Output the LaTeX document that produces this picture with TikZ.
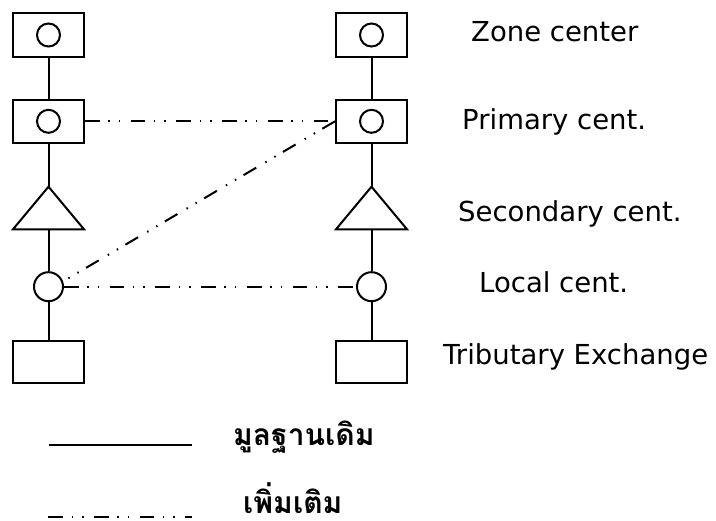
\documentclass[tikz,border=0pt]{standalone}
\usepackage{fontspec}
\setmainfont{DejaVu Sans}
\newfontfamily\thaifont[Script=Thai]{Loma}
\begin{document}
\begin{tikzpicture}[x=1pt,y=-1pt,
  lw/.style={line width=2pt},
  ctr/.style={draw,lw,rectangle,minimum width=71pt,minimum height=43.5pt,inner sep=0pt},
  inr/.style={draw,lw,circle,minimum size=23pt,inner sep=0pt},
  loc/.style={draw,lw,circle,minimum size=29pt,inner sep=0pt},
  lbl/.style={anchor=base west,inner sep=0pt,font=\fontsize{27.5}{30}\selectfont},
  thai/.style={anchor=base west,inner sep=0pt,font=\thaifont\bfseries\fontsize{30}{34}\selectfont},
  extra/.style={lw,dash pattern=on 14.7pt off 8.5pt on 1.5pt off 9pt on 1.5pt off 10.5pt}
]
\useasboundingbox (0,0) rectangle (716,521);

% left column
\node[ctr] (Lz) at (48.5,35) {};
\node[inr] (Lzc) at (48.5,35) {};
\node[ctr] (Lp) at (48.5,121.3) {};
\node[inr] (Lpc) at (48.5,121.3) {};
\coordinate (La) at (48.5,186.7);
\coordinate (Lb) at (48.5,229.3);
\draw[lw,line join=miter] (13,229.3) -- (La) -- (84,229.3) -- cycle;
\node[loc] (Ll) at (48.5,286.7) {};
\node[ctr,minimum height=42.6pt] (Lt) at (48.5,362) {};

% right column
\node[ctr] (Rz) at (371.5,35) {};
\node[inr] (Rzc) at (371.5,35) {};
\node[ctr] (Rp) at (371.5,121.3) {};
\node[inr] (Rpc) at (371.5,121.3) {};
\coordinate (Ra) at (371.5,186.7);
\coordinate (Rb) at (371.5,229.3);
\draw[lw,line join=miter] (336,229.3) -- (Ra) -- (407,229.3) -- cycle;
\node[loc] (Rl) at (371.5,286.7) {};
\node[ctr,minimum height=42.6pt] (Rt) at (371.5,362) {};

% solid connectors
\draw[lw] (Lz.south) -- (Lp.north);
\draw[lw] (Lp.south) -- (La);
\draw[lw] (Lb) -- (Ll.north);
\draw[lw] (Ll.south) -- (Lt.north);
\draw[lw] (Rz.south) -- (Rp.north);
\draw[lw] (Rp.south) -- (Ra);
\draw[lw] (Rb) -- (Rl.north);
\draw[lw] (Rl.south) -- (Rt.north);

% additional links
\draw[extra] (Lp.east) -- (Rp.west);
\draw[extra] (Ll.east) -- (Rl.west);
\draw[extra] (Rp.west) -- (Ll.20);

% labels
\node[lbl] (t1) at (471,42) {Zone center};
\node[lbl] (t2) at (462,130) {Primary cent.};
\node[lbl] (t3) at (458,222) {Secondary cent.};
\node[lbl] (t4) at (479,293) {Local cent.};
\node[lbl] (t5) at (443,365) {Tributary Exchange};

% legend
\coordinate (s1) at (48.7,444.7);
\coordinate (s2) at (192.3,444.7);
\draw[lw] (s1) -- (s2);
\coordinate (d1) at (48.3,517);
\coordinate (d2) at (192.3,517);
\draw[extra] (d1) -- (d2);
\node[thai] (g1) at (233,446) {มูลฐานเดิม};
\node[thai] (g2) at (243,514) {เพิ่มเติม};
\end{tikzpicture}
\end{document}
